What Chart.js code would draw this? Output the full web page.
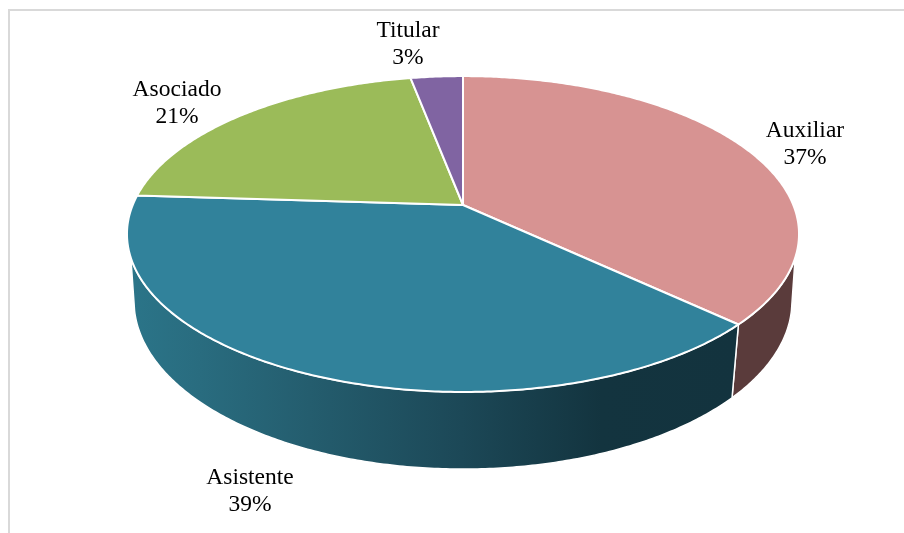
<!DOCTYPE html>
<html>
<head>
<meta charset="utf-8">
<style>
  html, body { margin: 0; padding: 0; background: #fff; overflow: hidden; }
  #wrap { position: absolute; left: 0; top: 0; width: 904px; height: 533px; }
  #frame { position: absolute; left: 8px; top: 9px; width: 900px; height: 530px; border: 2px solid #d9d9d9; box-sizing: border-box; }
</style>
</head>
<body>
<div id="wrap">
  <div id="frame"></div>
  <canvas id="pie3d" width="904" height="533" style="position:absolute;left:0;top:0"></canvas>
</div>
<script src="https://cdn.jsdelivr.net/npm/chart.js@4/dist/chart.umd.min.js"></script>
<script>
const categories = ['Auxiliar', 'Asistente', 'Asociado', 'Titular'];
const shares = [37, 39, 21, 3];

const topColors = ['#d79392', '#31829b', '#9bbb59', '#8064a2'];
const labelAnchors = [[805, 130.5], [250, 477.5], [177, 89.5], [408, 31]];

// perspective of the pie: top disc and bottom disc, x/y are relative to the apex
const topDisc = { cx: 463, cy: 205, a: 330.3, b: 152.6, p: 0.1837, sideFrom: Math.asin(0.3265) };
const bottomDisc = { cx: 463, cy: 270.8, a: 323.6, b: 162.6, p: 0.18, sideFrom: Math.asin(0.2356) };

function project(disc, angle) {
    const u = Math.cos(angle), v = Math.sin(angle);
    const d = 1 - disc.p * v;
    return [disc.cx + disc.a * u / d, disc.cy + disc.b * v / d];
}

function traceArc(ctx, disc, from, to) {
    const steps = Math.max(2, Math.ceil(Math.abs(to - from) / 0.01));
    for (let i = 0; i <= steps; i++) {
        const pt = project(disc, from + (to - from) * i / steps);
        ctx.lineTo(pt[0], pt[1]);
    }
}

// clamp a slice to the front of the given disc
function frontPart(disc, arc) {
    return [Math.max(arc.startAngle, disc.sideFrom), Math.min(arc.endAngle, Math.PI - disc.sideFrom)];
}

function sideFill(ctx, index) {
    if (index === 1) {
        const g = ctx.createLinearGradient(127, 0, 735, 0);
        g.addColorStop(0, '#2b7589');
        g.addColorStop(0.12, '#296c7f');
        g.addColorStop(0.3, '#245d6e');
        g.addColorStop(0.55, '#1c4857');
        g.addColorStop(0.78, '#13343f');
        g.addColorStop(1, '#13333e');
        return g;
    }
    return '#5a3b3b';
}

const pie3dPlugin = {
    id: 'pie3d',
    beforeDatasetDraw(chart, args) {
        const ctx = chart.ctx;
        const arcs = chart.getDatasetMeta(args.index).data;
        ctx.save();
        ctx.lineJoin = 'round';
        ctx.strokeStyle = '#ffffff';

        // walls, only the part of each slice that faces the viewer
        arcs.forEach((arc, i) => {
            const upper = frontPart(topDisc, arc);
            const lower = frontPart(bottomDisc, arc);
            if (lower[1] <= lower[0]) return;
            ctx.beginPath();
            if (upper[1] > upper[0]) traceArc(ctx, topDisc, upper[0], upper[1]);
            traceArc(ctx, bottomDisc, lower[1], lower[0]);
            ctx.closePath();
            ctx.fillStyle = sideFill(ctx, i);
            ctx.fill();
            ctx.lineWidth = 1.5;
            ctx.stroke();
        });

        // top faces
        arcs.forEach((arc, i) => {
            ctx.beginPath();
            ctx.moveTo(topDisc.cx, topDisc.cy);
            traceArc(ctx, topDisc, arc.startAngle, arc.endAngle);
            ctx.closePath();
            ctx.fillStyle = topColors[i];
            ctx.fill();
            ctx.lineWidth = 2;
            ctx.stroke();
        });
        ctx.restore();
        return false;
    },
    afterDatasetsDraw(chart) {
        const ctx = chart.ctx;
        ctx.save();
        ctx.font = '23.5px "Liberation Serif"';
        ctx.fillStyle = '#000000';
        ctx.textAlign = 'center';
        ctx.textBaseline = 'middle';
        categories.forEach((name, i) => {
            const pos = labelAnchors[i];
            ctx.fillText(name, pos[0], pos[1]);
            ctx.fillText(shares[i] + '%', pos[0], pos[1] + 27);
        });
        ctx.restore();
    }
};

new Chart(document.getElementById('pie3d'), {
    type: 'pie',
    data: {
        labels: categories,
        datasets: [{ data: shares, backgroundColor: topColors, borderColor: '#ffffff' }]
    },
    options: {
        responsive: false,
        animation: false,
        plugins: {
            legend: { display: false },
            tooltip: { enabled: false }
        }
    },
    plugins: [pie3dPlugin]
});
</script>
</body>
</html>
